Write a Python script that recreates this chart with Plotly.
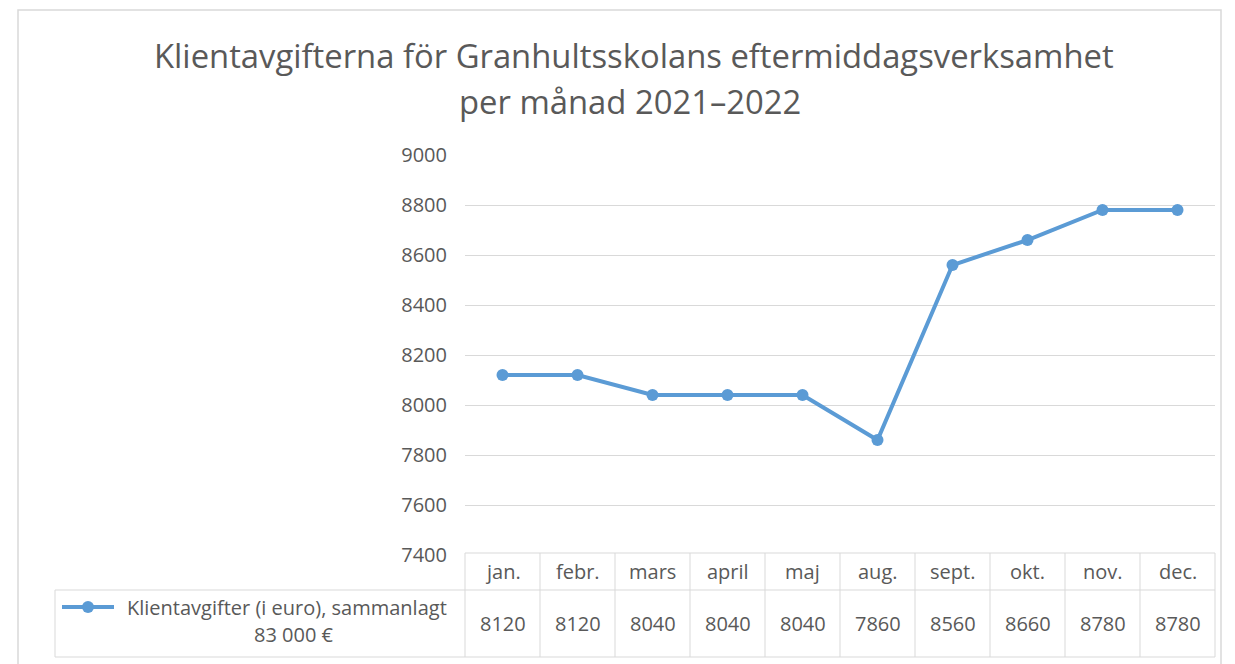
import plotly.graph_objects as go

months = ["jan.", "febr.", "mars", "april", "maj", "aug.", "sept.", "okt.", "nov.", "dec."]
fees = [8120, 8120, 8040, 8040, 8040, 7860, 8560, 8660, 8780, 8780]
y_ticks = [7400, 7600, 7800, 8000, 8200, 8400, 8600, 8800, 9000]
title_lines = ["Klientavgifterna för Granhultsskolans eftermiddagsverksamhet", "per månad 2021–2022"]
series_name = ["Klientavgifter (i euro), sammanlagt", "83 000 €"]

W, H = 1235, 664
ML, MR, MT, MB = 465, 20, 155, 109
PW, PH = W - ML - MR, H - MT - MB

def px_x(px):
    return (px - ML) / PW

def px_y(py):
    return (H - MB - py) / PH

BLUE = "#5B9BD5"
GRAY_TXT = "#595959"
GRID = "#D9D9D9"
FONT = "Open Sans"
TXT = 20

fig = go.Figure()
fig.add_trace(go.Scatter(
    x=list(range(len(months))), y=fees, mode="lines+markers",
    line=dict(color=BLUE, width=4), marker=dict(color=BLUE, size=12),
    showlegend=False, hoverinfo="x+y",
))

shapes = []
annotations = []

# outer chart frame
shapes.append(dict(type="rect", xref="paper", yref="paper",
                   x0=px_x(18), x1=px_x(1221), y0=px_y(700), y1=px_y(10),
                   line=dict(color="#D9D9D9", width=1.5), fillcolor="rgba(0,0,0,0)", layer="below"))

# table geometry
row_top, row_mid, row_bot = px_y(553), px_y(590), px_y(657)
n = len(months)
tcol = dict(color=GRID, width=1)
shapes.append(dict(type="line", xref="paper", yref="paper", x0=0, x1=1, y0=row_top, y1=row_top, line=tcol))
shapes.append(dict(type="line", xref="paper", yref="paper", x0=px_x(55), x1=1, y0=row_mid, y1=row_mid, line=tcol))
shapes.append(dict(type="line", xref="paper", yref="paper", x0=px_x(55), x1=1, y0=row_bot, y1=row_bot, line=tcol))
shapes.append(dict(type="line", xref="paper", yref="paper", x0=px_x(55), x1=px_x(55), y0=row_mid, y1=row_bot, line=tcol))
for i in range(n + 1):
    shapes.append(dict(type="line", xref="paper", yref="paper", x0=i / n, x1=i / n,
                       y0=row_top, y1=row_bot, line=tcol))

for i, (m, v) in enumerate(zip(months, fees)):
    annotations.append(dict(x=i, xref="x", y=(row_top + row_mid) / 2, yref="paper",
                            xanchor="center", yanchor="middle",
                            text=m, showarrow=False, font=dict(family=FONT, size=TXT, color=GRAY_TXT)))
    annotations.append(dict(x=i, xref="x", y=(row_mid + row_bot) / 2, yref="paper",
                            xanchor="center", yanchor="middle",
                            text=str(v), showarrow=False, font=dict(family=FONT, size=TXT, color=GRAY_TXT)))

# legend key in table
ly = px_y(607)
shapes.append(dict(type="line", xref="paper", yref="paper", x0=px_x(62), x1=px_x(114), y0=ly, y1=ly,
                   line=dict(color=BLUE, width=4)))
shapes.append(dict(type="circle", xref="paper", yref="paper",
                   x0=px_x(82), x1=px_x(94), y0=px_y(613), y1=px_y(601),
                   line=dict(color=BLUE, width=0), fillcolor=BLUE))
annotations.append(dict(x=px_x(287), xref="paper", y=px_y(607), yref="paper",
                        xanchor="center", yanchor="middle",
                        text=series_name[0], showarrow=False,
                        font=dict(family=FONT, size=TXT, color=GRAY_TXT)))
annotations.append(dict(x=px_x(294), xref="paper", y=px_y(634), yref="paper",
                        xanchor="center", yanchor="middle",
                        text=series_name[1], showarrow=False,
                        font=dict(family=FONT, size=TXT, color=GRAY_TXT)))

# title
annotations.append(dict(x=px_x(634), xref="paper", y=px_y(56), yref="paper", text=title_lines[0],
                        xanchor="center", yanchor="middle",
                        showarrow=False, font=dict(family=FONT, size=32.8, color=GRAY_TXT)))
annotations.append(dict(x=px_x(630), xref="paper", y=px_y(101), yref="paper", text=title_lines[1],
                        xanchor="center", yanchor="middle",
                        showarrow=False, font=dict(family=FONT, size=32.8, color=GRAY_TXT)))

fig.update_layout(
    width=W, height=H,
    margin=dict(l=ML, r=MR, t=MT, b=MB, autoexpand=False),
    paper_bgcolor="white", plot_bgcolor="white",
    shapes=shapes, annotations=annotations,
    xaxis=dict(range=[-0.5, n - 0.5], showticklabels=False, showgrid=False, zeroline=False,
               showline=False, fixedrange=True),
    yaxis=dict(range=[7400, 9000], tickvals=y_ticks, ticktext=[str(t) for t in y_ticks],
               showgrid=True, gridcolor=GRID, gridwidth=1, zeroline=False, showline=False,
               tickfont=dict(family=FONT, size=TXT, color=GRAY_TXT), ticklabelstandoff=17,
               fixedrange=True),
    font=dict(family=FONT),
)

fig.write_html("out.html", config={"displayModeBar": False},
               post_script="document.body.style.margin='0';document.body.style.overflow='hidden';")
